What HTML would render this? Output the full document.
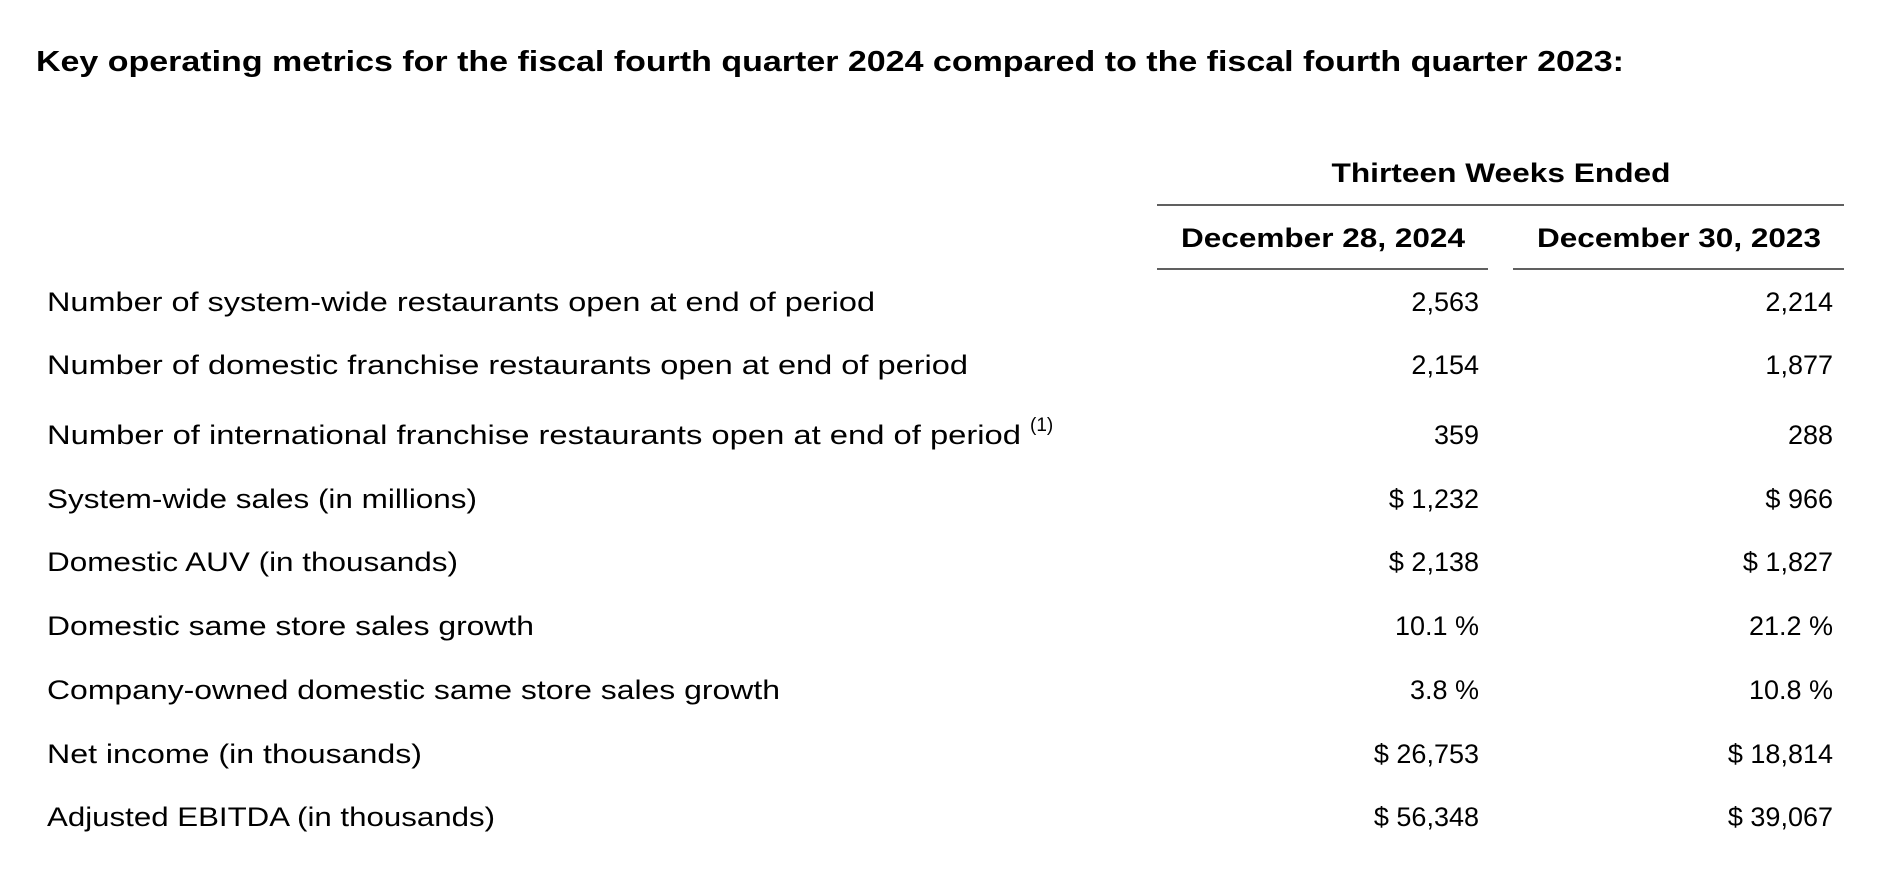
<!DOCTYPE html>
<html><head><meta charset="utf-8"><style>
html,body{margin:0;padding:0;background:#fff;}
svg{display:block;font-family:"Liberation Sans",sans-serif;}
</style></head><body>
<svg width="1894" height="886" viewBox="0 0 1894 886">
<text x="36" y="71" font-size="29" font-weight="bold" textLength="1588" lengthAdjust="spacingAndGlyphs">Key operating metrics for the fiscal fourth quarter 2024 compared to the fiscal fourth quarter 2023:</text>
<text x="1501" y="182" font-size="27" font-weight="bold" text-anchor="middle" textLength="339" lengthAdjust="spacingAndGlyphs">Thirteen Weeks Ended</text>
<line x1="1157" y1="205" x2="1844" y2="205" stroke="#000" stroke-width="1.3"/>
<text x="1323" y="247" font-size="27" font-weight="bold" text-anchor="middle" textLength="284" lengthAdjust="spacingAndGlyphs">December 28, 2024</text>
<text x="1679" y="247" font-size="27" font-weight="bold" text-anchor="middle" textLength="284" lengthAdjust="spacingAndGlyphs">December 30, 2023</text>
<line x1="1157" y1="269" x2="1488" y2="269" stroke="#000" stroke-width="1.3"/>
<line x1="1513" y1="269" x2="1844" y2="269" stroke="#000" stroke-width="1.3"/>
<g id="rows" font-size="27"></g>
</svg>
<script>
const labels=["Number of system-wide restaurants open at end of period","Number of domestic franchise restaurants open at end of period","Number of international franchise restaurants open at end of period","System-wide sales (in millions)","Domestic AUV (in thousands)","Domestic same store sales growth","Company-owned domestic same store sales growth","Net income (in thousands)","Adjusted EBITDA (in thousands)"];
const labelWidths=[828,921,974,430,411,487,733,375,448];
const v2024=["2,563","2,154","359","$ 1,232","$ 2,138","10.1 %","3.8 %","$ 26,753","$ 56,348"];
const v2023=["2,214","1,877","288","$ 966","$ 1,827","21.2 %","10.8 %","$ 18,814","$ 39,067"];
const rowY=[311,374,444,508,571,635,699,763,826];
const g=document.getElementById('rows');
const NS="http://www.w3.org/2000/svg";
function t(x,y,s,anchor,len){const e=document.createElementNS(NS,'text');e.setAttribute('x',x);e.setAttribute('y',y);if(anchor)e.setAttribute('text-anchor',anchor);if(len){e.setAttribute('textLength',len);e.setAttribute('lengthAdjust','spacingAndGlyphs');}e.textContent=s;g.appendChild(e);return e;}
labels.forEach((l,i)=>{
const a=t(47,rowY[i],l,null,labelWidths[i]);


if(i===2){const s=t(1030,rowY[i]-13,"(1)");s.setAttribute('font-size','19');

}
const b=t(1479,rowY[i],v2024[i],'end');


const c=t(1833,rowY[i],v2023[i],'end');


});
</script>
</body></html>
